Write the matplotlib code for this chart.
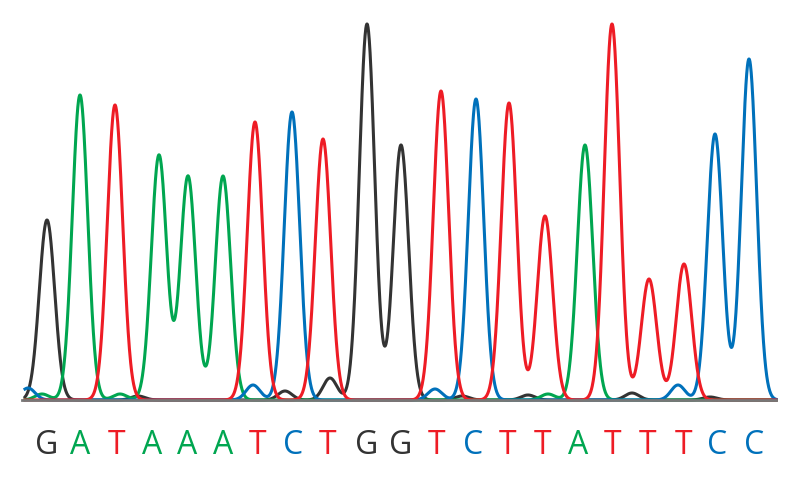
import numpy as np
import matplotlib.pyplot as plt

bases = list("GATAAATCTGGTCTTATTTCC")
peak_pos = [47, 80, 115, 159, 188, 223, 255, 292, 323, 367, 401, 441, 476, 509, 545, 585, 612, 649, 684, 715, 749]
peak_hgt = [180, 305, 295, 245, 224, 224, 278, 288, 261, 376, 255, 309, 301, 297, 184, 255, 376, 121, 136, 266, 341]
call_pos = [47, 80, 117, 152, 187, 223, 258, 293, 328, 367, 401, 437, 473, 508, 543, 578, 613, 648, 684, 717, 754]

# small background peaks (base, position, height)
minor = [("A", 42, 6), ("C", 28, 12), ("A", 120, 6), ("G", 138, 4), ("C", 253, 15),
         ("G", 285, 9), ("G", 330, 22), ("C", 435, 11), ("G", 462, 4), ("G", 528, 5),
         ("A", 548, 6), ("G", 632, 7), ("C", 678, 15), ("G", 710, 3)]

colors = {"G": "#333333", "A": "#00a650", "T": "#ee1c25", "C": "#0071bb"}

fig = plt.figure(figsize=(8, 4.83), dpi=100)
ax = fig.add_axes([0, 0, 1, 1])
ax.set_xlim(0, 800)
ax.set_ylim(-83, 400)
ax.axis("off")

x = np.linspace(25, 776, 3000)
for b in "GACT":
    y = np.zeros_like(x)
    for p, h, bb in zip(peak_pos, peak_hgt, bases):
        if bb == b:
            y += h * np.exp(-0.5 * ((x - p) / 7.7) ** 2)
    for bb, p, h in minor:
        if bb == b:
            y += h * np.exp(-0.5 * ((x - p) / 7) ** 2)
    ax.plot(x, y, color=colors[b], lw=2.2)

ax.plot([22, 776], [0, 0], color="#777777", lw=2)

for b, p in zip(bases, call_pos):
    ax.text(p, -45, b, color=colors[b], fontsize=23, ha="center", va="center",
            family="Open Sans")

fig.savefig("out.png", dpi=100)
